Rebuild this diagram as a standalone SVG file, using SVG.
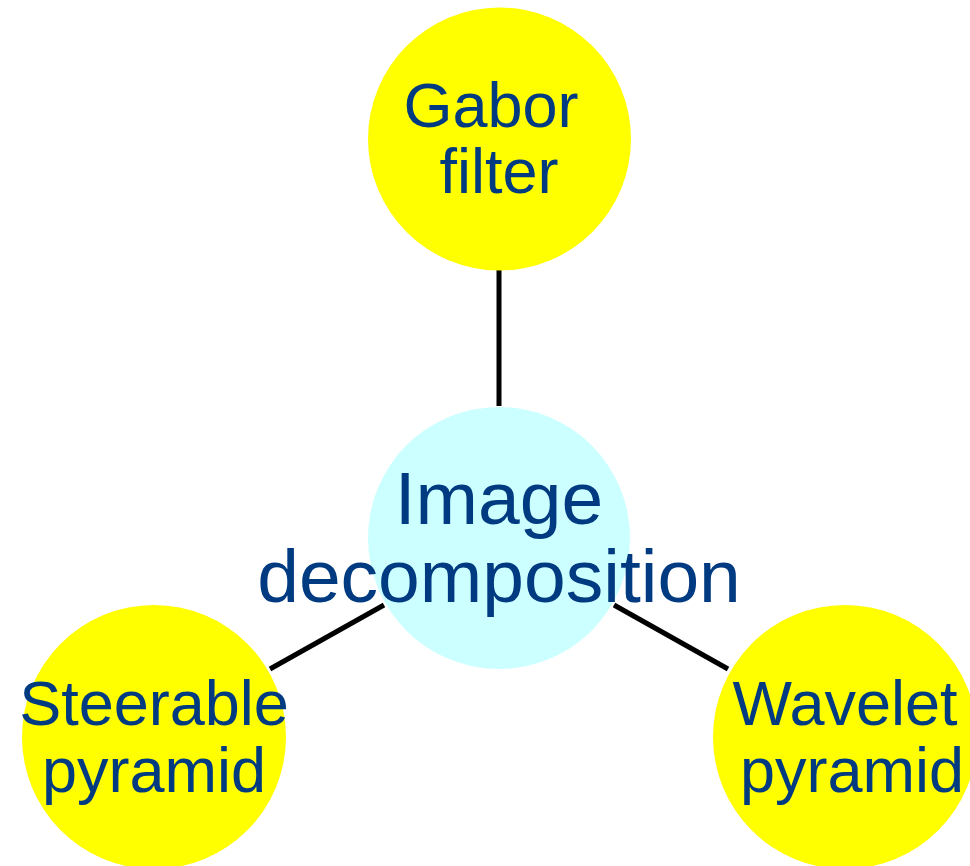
<svg xmlns="http://www.w3.org/2000/svg" width="970" height="866" viewBox="0 0 970 866">
<style>
.edge{stroke:#000;stroke-width:5;fill:none}
.outer{fill:#FFFF00}
.center{fill:#CCFFFF}
.lbl{font-family:"Liberation Sans",Arial,sans-serif;fill:#003A80;text-anchor:middle}
.s63{font-size:63px}
.s75{font-size:75px}
</style>
<rect width="970" height="866" fill="#fff"/>
<g id="connectors">
<line class="edge" x1="499" y1="270" x2="499" y2="406"/>
<line class="edge" x1="270" y1="669" x2="384" y2="605"/>
<line class="edge" x1="614" y1="605" x2="728" y2="669"/>
</g>
<g id="gabor">
<circle class="outer" cx="499.5" cy="139" r="131.5"/>
<text class="lbl s63" x="491" y="127">Gabor</text>
<text class="lbl s63" x="499" y="193">filter</text>
</g>
<g id="image-decomposition">
<circle class="center" cx="499" cy="538" r="131"/>
<text class="lbl s75" x="499" y="524">Image</text>
<text class="lbl s75" x="499" y="602">decomposition</text>
</g>
<g id="steerable">
<circle class="outer" cx="154" cy="737" r="132"/>
<text class="lbl s63" x="154" y="725">Steerable</text>
<text class="lbl s63" x="154" y="792">pyramid</text>
</g>
<g id="wavelet">
<circle class="outer" cx="845" cy="737" r="132"/>
<text class="lbl s63" x="845" y="725">Wavelet</text>
<text class="lbl s63" x="852" y="792">pyramid</text>
</g>
</svg>
